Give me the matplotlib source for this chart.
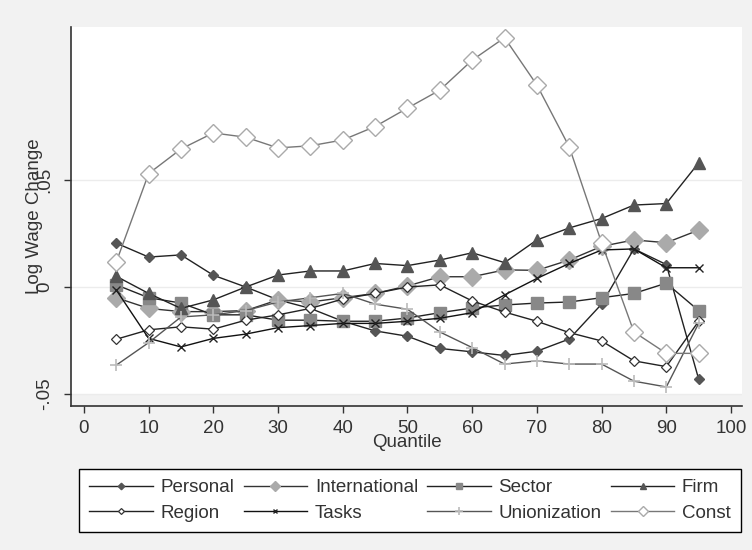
import numpy as np
import matplotlib.pyplot as plt
from matplotlib.patches import Rectangle

plt.rcParams['font.family'] = ['Liberation Sans', 'DejaVu Sans']

quantiles = [5, 10, 15, 20, 25, 30, 35, 40, 45, 50, 55, 60, 65, 70, 75, 80, 85, 90, 95]

personal = [0.0205, 0.014, 0.015, 0.0055, 0.0, -0.006, -0.010, -0.016, -0.0205, -0.023,
            -0.0287, -0.0303, -0.032, -0.030, -0.0243, -0.008, 0.0178, 0.0105, -0.043]
international = [-0.005, -0.010, -0.0115, -0.0115, -0.011, -0.006, -0.007, -0.005, -0.003, 0.0005,
                 0.0048, 0.0048, 0.008, 0.0078, 0.0126, 0.019, 0.022, 0.0207, 0.0266]
sector = [0.001, -0.005, -0.0075, -0.013, -0.013, -0.0155, -0.0155, -0.016, -0.016, -0.0145,
          -0.012, -0.0098, -0.0084, -0.0075, -0.007, -0.005, -0.003, 0.0018, -0.011]
firm = [0.005, -0.003, -0.010, -0.006, 0.0, 0.0056, 0.0075, 0.0075, 0.011, 0.010,
        0.0126, 0.016, 0.0114, 0.022, 0.0276, 0.032, 0.0383, 0.039, 0.058]
region = [-0.0244, -0.020, -0.0186, -0.0197, -0.0155, -0.013, -0.010, -0.0056, -0.003, 0.0,
          0.001, -0.0065, -0.0117, -0.016, -0.0213, -0.0252, -0.0345, -0.0372, -0.016]
tasks = [-0.0014, -0.024, -0.028, -0.024, -0.022, -0.019, -0.018, -0.017, -0.017, -0.016,
         -0.0146, -0.012, -0.0037, 0.004, 0.011, 0.0173, 0.0178, 0.009, 0.009]
unionization = [-0.0365, -0.026, -0.014, -0.013, -0.011, -0.007, -0.005, -0.003, -0.008, -0.0104,
                -0.021, -0.0283, -0.036, -0.0345, -0.036, -0.036, -0.044, -0.0467, -0.017]
const = [0.0117, 0.053, 0.0645, 0.072, 0.070, 0.065, 0.066, 0.0687, 0.075, 0.0836,
         0.092, 0.106, 0.1165, 0.0944, 0.0655, 0.0207, -0.021, -0.031, -0.031]

BG = '#f2f2f2'

fig = plt.figure(figsize=(7.52, 5.5), dpi=100, facecolor=BG)
ax = fig.add_axes([71 / 752, 1 - 406 / 550, 671 / 752, 379 / 550])
ax.set_facecolor(BG)

ax.set_xlim(-2, 101.7)
ax.set_ylim(-0.0556, 0.1215)
# white plot region (stata leaves a small grey gap above the x axis)
ax.add_patch(Rectangle((-2, -0.0505), 103.7, 0.2, facecolor='white',
                       edgecolor='none', zorder=0))

for yv in [-0.05, 0, 0.05]:
    ax.axhline(yv, color='#ececec', lw=1.0, zorder=0.5)

series = [
    ('Personal', personal, dict(marker='D', ms=5.5, mfc='#555555', mec='#555555', color='#222222')),
    ('International', international, dict(marker='D', ms=9, mfc='#aaaaaa', mec='#aaaaaa', color='#333333')),
    ('Sector', sector, dict(marker='s', ms=8, mfc='#888888', mec='#888888', color='#222222')),
    ('Firm', firm, dict(marker='^', ms=8, mfc='#555555', mec='#555555', color='#222222')),
    ('Region', region, dict(marker='D', ms=5, mfc='white', mec='#333333', mew=0.9, color='#222222')),
    ('Tasks', tasks, dict(marker='x', ms=6, mec='#222222', mew=1.0, color='#111111')),
    ('Unionization', unionization, dict(marker='+', ms=9, mec='#bbbbbb', mew=1.2, color='#555555')),
    ('Const', const, dict(marker='D', ms=9, mfc='white', mec='#aaaaaa', mew=1.0, color='#777777')),
]

handles = {}
for name, vals, st in series:
    h, = ax.plot(quantiles, vals, lw=1.0, label=name, zorder=3, **st)
    handles[name] = h

for s in ['top', 'right']:
    ax.spines[s].set_visible(False)
for s in ['left', 'bottom']:
    ax.spines[s].set_color('#333333')
    ax.spines[s].set_linewidth(1.2)

ax.set_xticks(np.arange(0, 101, 10))
ax.set_yticks([-0.05, 0, 0.05])
ax.set_yticklabels(['-.05', '0', '.05'], rotation=90, va='center')
ax.tick_params(axis='both', direction='out', length=5, width=1.0, color='#333333',
               labelsize=13.5, labelcolor='#333333')
ax.tick_params(axis='y', pad=8)
ax.tick_params(axis='x', pad=5)

ax.set_xlabel('Quantile', fontsize=13.5, color='#333333')
ax.set_ylabel('Log Wage Change', fontsize=13.5, color='#333333')
ax.xaxis.set_label_coords(0.5, -28 / 379)
ax.yaxis.set_label_coords(-0.042, 0.5)

order = ['Personal', 'Region', 'International', 'Tasks', 'Sector', 'Unionization', 'Firm', 'Const']
leg = fig.legend([handles[n] for n in order], order, ncol=4, mode='expand',
                 loc='lower left', bbox_to_anchor=(79 / 752, 1 - 532 / 550, 662 / 752, 65 / 550),
                 borderaxespad=0, fontsize=13.5, handlelength=3.4, handletextpad=0.4,
                 columnspacing=0.5, labelspacing=0.45, borderpad=0.55, markerscale=0.6,
                 fancybox=False, framealpha=1, edgecolor='black', facecolor='white')
leg.get_frame().set_linewidth(1.0)
for t in leg.get_texts():
    t.set_color('#333333')

fig.savefig('out.png', dpi=100, facecolor=BG)
